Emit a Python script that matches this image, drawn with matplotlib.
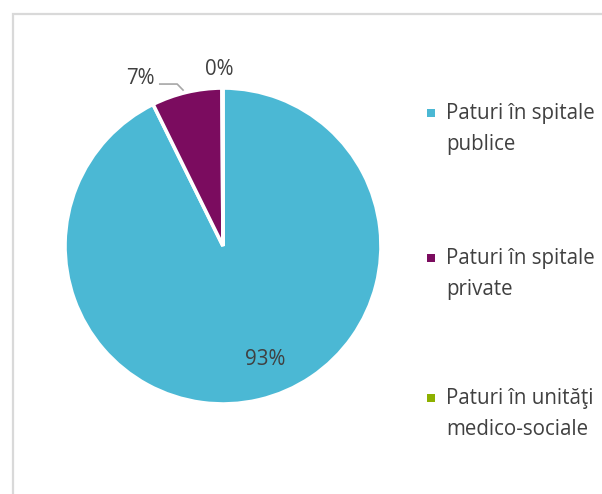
import numpy as np
import matplotlib
matplotlib.use('Agg')
import matplotlib.pyplot as plt
from matplotlib.patches import Rectangle

labels = ['Paturi în spitale\npublice', 'Paturi în spitale\nprivate', 'Paturi în unităţi\nmedico-sociale']
values = [92.7, 7.2, 0.1]
pct_labels = ['93%', '7%', '0%']
colors = ['#4BB8D4', '#7B0C5F', '#8DB000']

plt.rcParams['font.family'] = ['Open Sans', 'DejaVu Sans']
text_color = '#404040'

W, H = 602, 494
fig = plt.figure(figsize=(W / 100, H / 100), dpi=100)

# light grey chart frame (left/top edges visible, rest cut off)
fig.patches.append(Rectangle((13 / W, -0.1), 1.2, 1.1 - 14 / H,
                             transform=fig.transFigure, fill=False,
                             edgecolor='#D9D9D9', linewidth=1.6))

# pie axes: centre (223, 246), radius 158 px
cx, cy, r = 223, 246, 158
ax = fig.add_axes([(cx - r) / W, 1 - (cy + r) / H, 2 * r / W, 2 * r / H])
wedges, _ = ax.pie(values, colors=colors, startangle=90, counterclock=False,
                   wedgeprops=dict(edgecolor='white', linewidth=2.6))
ax.set_xlim(-1, 1)
ax.set_ylim(-1, 1)
ax.set_aspect('equal')
ax.axis('off')

fs = 14.8
ax.text(0.27, -0.72, pct_labels[0], ha='center', va='center', fontsize=fs, color=text_color)
ax.text(-0.52, 1.06, pct_labels[1], ha='center', va='center', fontsize=fs, color=text_color)
ax.text(-0.025, 1.12, pct_labels[2], ha='center', va='center', fontsize=fs, color=text_color)
# leader line for 7%
ax.plot([-0.40, -0.29, -0.253], [1.025, 1.025, 0.987], color='#A6A6A6', lw=1.2,
        clip_on=False)

# legend
for i, (lab, col) in enumerate(zip(labels, colors)):
    ly = [113, 258, 398][i]
    fig.patches.append(Rectangle((427 / W, 1 - (ly + 4) / H), 8 / W, 8 / H,
                                 transform=fig.transFigure, facecolor=col, edgecolor='none'))
    fig.text(446 / W, 1 - (ly + 16) / H, lab, ha='left', va='center', fontsize=fs,
             color=text_color, linespacing=1.6)

fig.savefig('out.png', dpi=100)
